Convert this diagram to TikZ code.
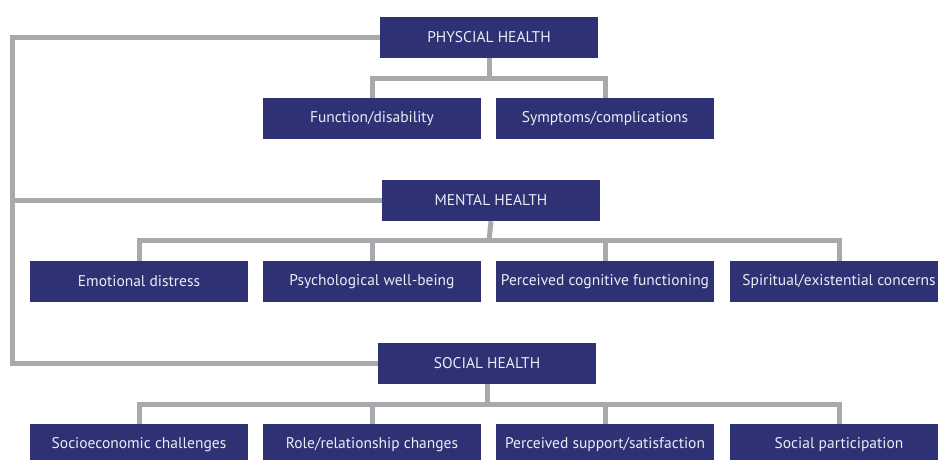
\documentclass[tikz,border=0pt]{standalone}
\usepackage{fontspec}
\setmainfont{PT Sans}
\definecolor{boxblue}{HTML}{2E3174}
\definecolor{linegray}{HTML}{A7A9AC}
\definecolor{boxtext}{HTML}{ECECF4}
\begin{document}
\begin{tikzpicture}[x=1pt,y=1pt,
  box/.style={fill=boxblue, text=boxtext, minimum width=218pt, minimum height=41pt,
    inner sep=0pt, font=\fontsize{15.5}{17}\selectfont},
  conn/.style={draw=linegray, line width=5pt}]
\useasboundingbox (0,0) rectangle (938,-460);
\clip (0,0) rectangle (938,-460);
% nodes
\node[box] (phys) at (489,-37.5) {PHYSCIAL HEALTH};
\node[box] (func) at (372,-118.5) {Function/disability};
\node[box] (symp) at (605,-118.5) {Symptoms/complications};
\node[box] (mental) at (491,-200.5) {MENTAL HEALTH};
\node[box] (emo) at (139,-281.5) {Emotional distress};
\node[box] (psy) at (372,-281.5) {Psychological well-being};
\node[box] (cog) at (605,-281.5) {Perceived cognitive functioning};
\node[box] (spi) at (839,-281.5) {Spiritual/existential concerns};
\node[box] (social) at (487,-363.5) {SOCIAL HEALTH};
\node[box] (soc) at (139,-444.5) {Socioeconomic challenges};
\node[box] (rol) at (372,-444.5) {Role/relationship changes};
\node[box] (sup) at (605,-444.5) {Perceived support/satisfaction};
\node[box] (par) at (839,-444.5) {Social participation};
% coordinates
\coordinate (spine) at (12.5,0);
\coordinate (pb) at (489,-78.5);
\coordinate (mb) at (489,-240.5);
\coordinate (sb) at (487,-404.5);
% connectors
\draw[conn] (phys.west) -- (phys.west -| spine) -- (social.west -| spine) -- (social.west);
\draw[conn] (mental.west) -- (mental.west -| spine);
\draw[conn] (phys.south) -- (pb);
\draw[conn] (func.north) |- (pb) -| (symp.north);
\draw[conn] (mental.south) -- (mb);
\draw[conn] (emo.north) |- (mb) -| (spi.north);
\draw[conn] (psy.north) -- (psy.north |- mb);
\draw[conn] (cog.north) -- (cog.north |- mb);
\draw[conn] (social.south) -- (sb);
\draw[conn] (soc.north) |- (sb) -| (par.north);
\draw[conn] (rol.north) -- (rol.north |- sb);
\draw[conn] (sup.north) -- (sup.north |- sb);
\end{tikzpicture}
\end{document}
